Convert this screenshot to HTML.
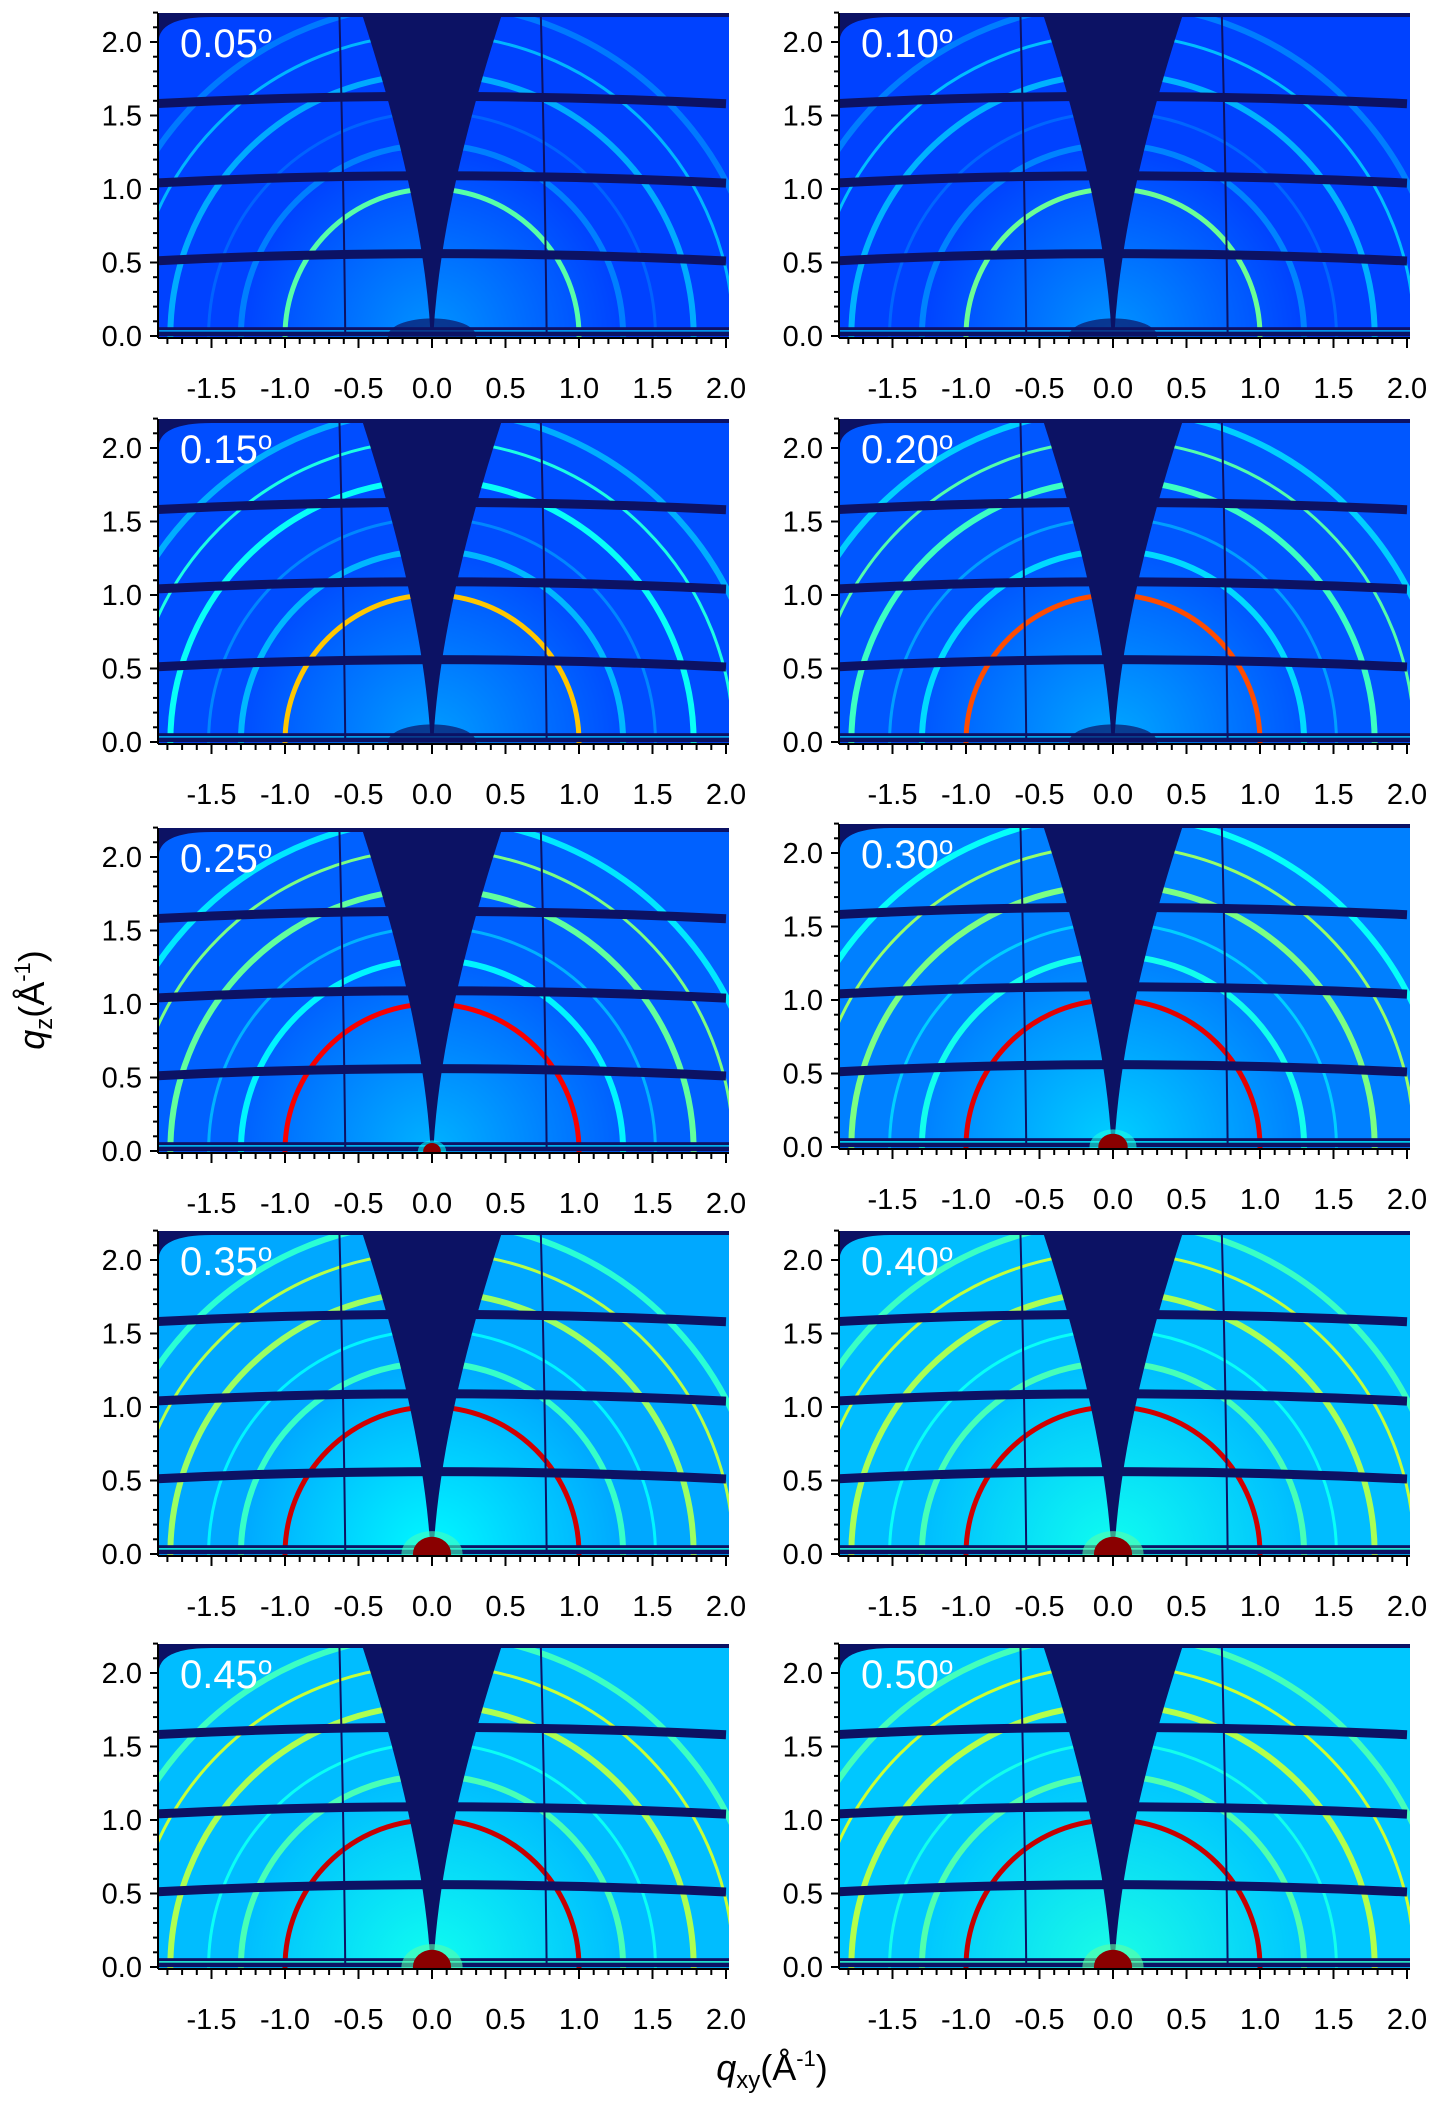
<!DOCTYPE html>
<html><head><meta charset="utf-8"><style>
html,body{margin:0;background:#fff;overflow:hidden;width:1444px;height:2107px;}
svg{display:block;font-family:"Liberation Sans",sans-serif;}
</style></head><body>
<svg id="fig" width="1444" height="2107" viewBox="0 0 1444 2107"></svg>
<script>
const angles=["0.05","0.10","0.15","0.20","0.25","0.30","0.35","0.40","0.45","0.50"];
const bgLevels=[0.19,0.19,0.20,0.21,0.22,0.25,0.29,0.31,0.31,0.32];
const mainLevels=[0.46,0.48,0.68,0.80,0.88,0.90,0.92,0.92,0.93,0.93];
const spotSizes=[0,0,0,0,0.06,0.10,0.13,0.13,0.13,0.13];
const ringRadii=[1.30,1.52,1.78,2.05,2.26];
const ringWeights=[0.22,0.12,0.38,0.42,0.2];
const xTicks=[-1.5,-1.0,-0.5,0.0,0.5,1.0,1.5,2.0];
const yTicks=[0.0,0.5,1.0,1.5,2.0];
const bandLevels=[0.55,1.08,1.62];
const vLines=[-0.6,0.77];

const NS="http://www.w3.org/2000/svg";
const svg=document.getElementById('fig');
function el(tag,attrs,parent){const e=document.createElementNS(NS,tag);for(const k in attrs)e.setAttribute(k,attrs[k]);(parent||svg).appendChild(e);return e;}
function clamp(v){return Math.max(0,Math.min(1,v));}
function jet(v){const r=clamp(1.5-Math.abs(4*v-3)),g=clamp(1.5-Math.abs(4*v-2)),b=clamp(1.5-Math.abs(4*v-1));
 return `rgb(${Math.round(r*255)},${Math.round(g*255)},${Math.round(b*255)})`;}
const DARK="#0c1264";
const S=147;
const colX=[158,839];
const rowTop=[13,419,828,1231,1644];
const PW=571, PH=325;

angles.forEach((ang,i)=>{
 const col=i%2,row=Math.floor(i/2);
 const left=colX[col],top=rowTop[row]+(col==1&&row==2?-4:0);
 const base=top+PH-2;
 const x0=left+274;
 const X=q=>x0+q*S, Y=q=>base-q*S;
 const g=el('g',{},svg);
 
 
 const cid='clip'+i;
 const cp=el('clipPath',{id:cid},g);el('rect',{x:left,y:top,width:PW,height:PH},cp);
 const pg=el('g',{'clip-path':`url(#${cid})`},g);
 const bg=bgLevels[i],mv=mainLevels[i];
 el('rect',{x:left,y:top,width:PW,height:PH,fill:jet(bg)},pg);
 const gid='rg'+i;
 const rg=el('radialGradient',{id:gid,cx:X(0),cy:Y(0),r:S*1.3,gradientUnits:'userSpaceOnUse'},pg);
 el('stop',{offset:'0','stop-color':jet(bg+0.08),'stop-opacity':'1'},rg);
 el('stop',{offset:'1','stop-color':jet(bg+0.08),'stop-opacity':'0'},rg);
 el('rect',{x:left,y:top,width:PW,height:PH,fill:`url(#${gid})`},pg);
 ringRadii.forEach((r,k)=>{
  const c=el('circle',{cx:X(0),cy:Y(0),r:r*S,fill:'none',stroke:jet(bg+(mv-bg)*ringWeights[k]),'stroke-width':k%2?3:6},pg);
  
  
 });
 const m=el('circle',{cx:X(0),cy:Y(0),r:1.0*S,fill:'none',stroke:jet(mv),'stroke-width':5},pg);
 
 
 el('rect',{x:left,y:top,width:PW,height:Y(2.17)-top,fill:DARK},pg);
 el('path',{d:`M${X(-1.86)},${Y(2.0)} Q${X(-1.86)},${Y(2.17)} ${X(-1.5)},${Y(2.17)} L${X(-1.86)},${Y(2.17)}Z`,fill:DARK},pg);
 el('path',{d:`M${X(-0.5)},${top} L${X(-0.47)},${Y(2.17)} Q${X(-0.06)},${Y(0.9)} ${X(-0.01)},${Y(0.02)} L${X(0.01)},${Y(0.02)} Q${X(0.06)},${Y(0.9)} ${X(0.47)},${Y(2.17)} L${X(0.5)},${top}Z`,fill:DARK},pg);
 bandLevels.forEach(b=>{
  el('path',{d:`M${X(-1.9)},${Y(b-0.04)} Q${X(0)},${Y(b+0.06)} ${X(2.0)},${Y(b-0.04)}`,fill:'none',stroke:DARK,'stroke-width':9},pg);
 });
 el('rect',{x:left,y:Y(0.06),width:PW,height:9,fill:DARK},pg);
 el('line',{x1:left,x2:left+PW,y1:Y(0.035),y2:Y(0.035),stroke:jet(bg+0.1),'stroke-width':1.5},pg);
 vLines.forEach(v=>{
  el('path',{d:`M${X(v-0.03)},${top} Q${X(v)},${Y(1.0)} ${X(v+0.01)},${base}`,fill:'none',stroke:DARK,'stroke-width':2},pg);
 });
 if(spotSizes[i]>0){
  el('ellipse',{cx:X(0),cy:Y(0),rx:spotSizes[i]*S*1.6,ry:spotSizes[i]*S*1.2,fill:jet(bg+0.15),opacity:0.6},pg);
  el('ellipse',{cx:X(0),cy:Y(0),rx:spotSizes[i]*S,ry:spotSizes[i]*S*0.9,fill:'#8a0000'},pg);
 } else {
  el('ellipse',{cx:X(0),cy:Y(0),rx:0.3*S,ry:0.12*S,fill:DARK,opacity:0.7},pg);
 }
 const t=el('text',{x:left+22,y:top+44,fill:'#fff','font-size':40},g);
 t.textContent=ang;
 const ts=el('tspan',{'font-size':26,dy:-14},t);ts.textContent='o';
 
 
 el('line',{x1:left,x2:left,y1:top,y2:base+2,stroke:'#000','stroke-width':2},g);
 el('line',{x1:left,x2:left+PW,y1:base+2,y2:base+2,stroke:'#000','stroke-width':2},g);
 for(let q=0;q<=2.2001;q+=0.1){const maj=Math.abs(q*2-Math.round(q*2))<1e-6;
  el('line',{x1:left-(maj?8:5),x2:left,y1:Y(q),y2:Y(q),stroke:'#000','stroke-width':2},g);}
 for(let q=-1.8;q<=2.0001;q+=0.1){const maj=Math.abs(q*2-Math.round(q*2))<1e-6;
  el('line',{x1:X(q),x2:X(q),y1:base+2,y2:base+(maj?12:8),stroke:'#000','stroke-width':2},g);}
 yTicks.forEach(v=>{const tt=el('text',{x:left-16,y:Y(v)+10,'text-anchor':'end','font-size':29,fill:'#000'},g);tt.textContent=v.toFixed(1);
  
  });
 xTicks.forEach(v=>{const tt=el('text',{x:X(v),y:base+62,'text-anchor':'middle','font-size':29,fill:'#000'},g);tt.textContent=v.toFixed(1);
  
  });
});
const yt=el('text',{x:0,y:0,'font-size':36,transform:'translate(44,1000) rotate(-90)','text-anchor':'middle',fill:'#000'});
yt.innerHTML='<tspan font-style="italic">q</tspan><tspan font-size="24" dy="8">z</tspan><tspan dy="-8">(Å</tspan><tspan font-size="22" dy="-14">-1</tspan><tspan dy="14">)</tspan>';


const xt=el('text',{x:772,y:2080,'font-size':36,'text-anchor':'middle',fill:'#000'});
xt.innerHTML='<tspan font-style="italic">q</tspan><tspan font-size="24" dy="8">xy</tspan><tspan dy="-8">(Å</tspan><tspan font-size="22" dy="-14">-1</tspan><tspan dy="14">)</tspan>';


</script>
</body></html>
